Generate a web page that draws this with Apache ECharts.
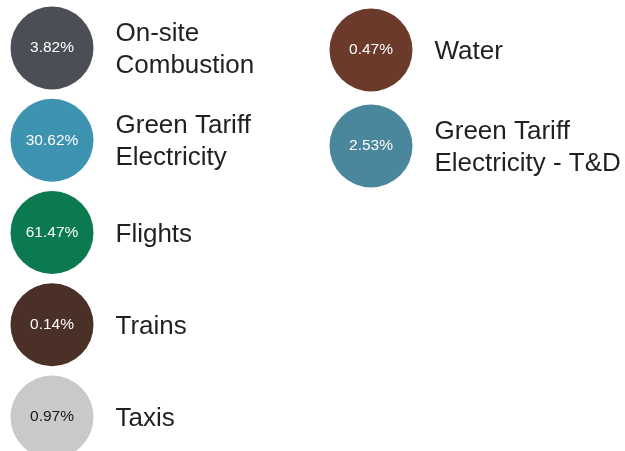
<!DOCTYPE html>
<html>
<head>
<meta charset="utf-8">
<script src="https://cdn.jsdelivr.net/npm/echarts@6/dist/echarts.min.js"></script>
<style>
  html, body { margin: 0; padding: 0; background: #fff; }
  #myChart { width: 625px; height: 451px; }
</style>
</head>
<body>
<div id="myChart"></div>
<script>
// emission sources, share of total
var names = ["On-site\nCombustion", "Green Tariff\nElectricity", "Flights", "Trains", "Taxis", "Water", "Green Tariff\nElectricity - T&D"];
var shares = [3.82, 30.62, 61.47, 0.14, 0.97, 0.47, 2.53];
// which column / row of the layout each one sits in
var columns = [0, 0, 0, 0, 0, 1, 1];
var rows = [0, 1, 2, 3, 4, 0, 1];
var colors = ["#4b4e55", "#3d93b0", "#0b7a4f", "#4a3027", "#c8c9c8", "#6b3a2b", "#4a879d"];
var pctColors = ["#fff", "#fff", "#fff", "#fff", "#1a1a1a", "#fff", "#fff"];

// each column gets its own grid, the right one is spaced a bit wider
var grids = [
  { left: 52, top: 48, width: 10, height: 369 },
  { left: 371, top: 50, width: 10, height: 384 }
];

var series = [];
for (var c = 0; c < 2; c++) {
  var circleData = [];
  var nameData = [];
  for (var i = 0; i < names.length; i++) {
    if (columns[i] !== c) continue;
    circleData.push({
      value: [0, rows[i], shares[i]],
      itemStyle: { color: colors[i] },
      label: { color: pctColors[i] }
    });
    nameData.push({ value: [0, rows[i]], name: names[i] });
  }
  series.push({
    type: "scatter",
    xAxisIndex: c,
    yAxisIndex: c,
    symbol: "circle",
    symbolSize: 83,
    itemStyle: { opacity: 1 },
    data: circleData,
    label: {
      show: true,
      position: "inside",
      fontFamily: "Liberation Sans, Arial, sans-serif",
      fontSize: 15.5,
      formatter: function (p) { return p.value[2].toFixed(2) + "%"; }
    }
  });
  series.push({
    type: "scatter",
    xAxisIndex: c,
    yAxisIndex: c,
    symbolSize: 83,
    itemStyle: { color: "rgba(0,0,0,0)", opacity: 1 },
    data: nameData,
    label: {
      show: true,
      position: "right",
      distance: 22,
      offset: [0, 2],
      color: "#231f20",
      fontFamily: "Liberation Sans, Arial, sans-serif",
      fontSize: 26,
      lineHeight: 32,
      formatter: function (p) { return p.name; }
    }
  });
}

var myChart = echarts.init(document.getElementById("myChart"));
myChart.setOption({
  animation: false,
  grid: grids,
  xAxis: [
    { gridIndex: 0, type: "value", min: 0, max: 1, show: false },
    { gridIndex: 1, type: "value", min: 0, max: 1, show: false }
  ],
  yAxis: [
    { gridIndex: 0, type: "value", min: 0, max: 4, inverse: true, show: false },
    { gridIndex: 1, type: "value", min: 0, max: 4, inverse: true, show: false }
  ],
  series: series
});
</script>
</body>
</html>
